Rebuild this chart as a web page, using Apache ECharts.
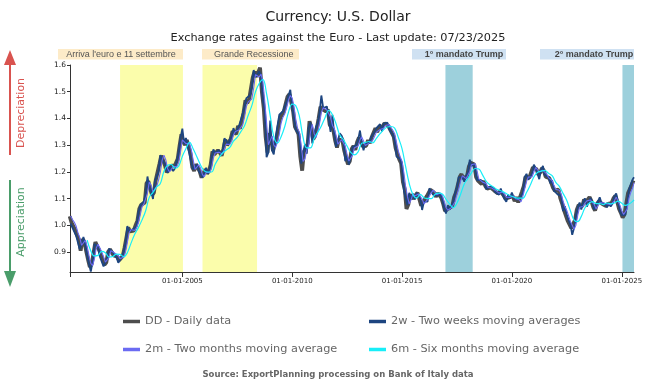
<!DOCTYPE html>
<html><head><meta charset="utf-8">
<script src="https://cdn.jsdelivr.net/npm/echarts@6/dist/echarts.min.js"></script>
<style>html,body{margin:0;padding:0;background:#fff}#c{width:655px;height:391px}</style>
</head><body><div id="c"></div>
<script>
// ---- data (EUR/USD) ----
// DD: mid-month values, Nov 1999 .. Jul 2025
const dd = [1.034,1.011,
1.014,0.983,0.964,0.947,0.906,0.949,0.940,0.904,0.872,0.845,0.856,0.897,
0.938,0.922,0.910,0.892,0.874,0.853,0.861,0.901,0.911,0.906,0.888,0.892,
0.883,0.870,0.876,0.886,0.917,0.955,0.992,0.978,0.981,0.981,1.001,1.018,
1.062,1.077,1.081,1.085,1.158,1.166,1.137,1.114,1.122,1.169,1.170,1.229,
1.261,1.265,1.226,1.199,1.201,1.214,1.227,1.218,1.222,1.249,1.299,1.341,
1.312,1.301,1.320,1.294,1.269,1.217,1.204,1.229,1.226,1.202,1.179,1.186,
1.210,1.194,1.202,1.227,1.277,1.265,1.268,1.281,1.273,1.261,1.288,1.321,
1.300,1.307,1.324,1.352,1.351,1.342,1.372,1.362,1.390,1.423,1.468,1.457,
1.472,1.475,1.553,1.575,1.556,1.555,1.590,1.498,1.437,1.332,1.273,1.345,
1.324,1.279,1.305,1.319,1.365,1.402,1.409,1.427,1.456,1.482,1.491,1.461,
1.427,1.369,1.357,1.341,1.257,1.205,1.277,1.289,1.307,1.390,1.366,1.322,
1.336,1.365,1.400,1.444,1.435,1.439,1.426,1.434,1.377,1.371,1.356,1.318,
1.291,1.322,1.320,1.316,1.279,1.253,1.229,1.240,1.286,1.297,1.283,1.312,
1.329,1.336,1.296,1.303,1.298,1.319,1.308,1.331,1.335,1.364,1.349,1.370,
1.361,1.366,1.382,1.381,1.373,1.359,1.354,1.332,1.290,1.267,1.247,1.233,
1.162,1.135,1.062,1.078,1.115,1.121,1.100,1.114,1.122,1.124,1.074,1.088,
1.086,1.109,1.110,1.134,1.131,1.123,1.107,1.121,1.121,1.103,1.080,1.054,
1.061,1.064,1.069,1.072,1.106,1.123,1.151,1.181,1.192,1.176,1.174,1.184,
1.220,1.235,1.234,1.228,1.181,1.168,1.169,1.155,1.166,1.148,1.137,1.138,
1.142,1.135,1.130,1.124,1.119,1.129,1.122,1.113,1.100,1.105,1.105,1.111,
1.110,1.091,1.106,1.086,1.090,1.126,1.146,1.183,1.179,1.178,1.184,1.217,
1.217,1.210,1.190,1.198,1.215,1.205,1.182,1.177,1.177,1.160,1.141,1.130,
1.131,1.134,1.102,1.082,1.058,1.057,1.018,1.013,0.990,0.983,1.020,1.059,
1.077,1.072,1.071,1.097,1.087,1.084,1.106,1.091,1.068,1.056,1.081,1.090,
1.091,1.080,1.087,1.073,1.081,1.076,1.084,1.101,1.111,1.090,1.063,1.048,
1.030,1.041,1.081,1.121,1.128,1.152,1.168];

// 2w: month-end values, Nov 1999 .. Jul 2025
const w2 = [1.007,1.005,
0.976,0.962,0.957,0.911,0.931,0.957,0.927,0.886,0.883,0.828,0.865,0.931,
0.935,0.919,0.883,0.887,0.847,0.848,0.877,0.913,0.913,0.900,0.890,0.881,
0.861,0.870,0.872,0.902,0.934,0.998,0.978,0.983,0.986,0.983,0.996,1.049,
1.074,1.080,1.090,1.114,1.183,1.143,1.127,1.099,1.165,1.158,1.200,1.263,
1.246,1.236,1.222,1.197,1.222,1.216,1.204,1.214,1.241,1.275,1.326,1.362,
1.304,1.327,1.296,1.294,1.232,1.209,1.213,1.228,1.204,1.200,1.179,1.180,
1.216,1.193,1.210,1.254,1.284,1.271,1.278,1.281,1.266,1.277,1.326,1.317,
1.301,1.322,1.332,1.364,1.345,1.351,1.373,1.367,1.418,1.445,1.476,1.472,
1.487,1.517,1.581,1.554,1.551,1.576,1.561,1.467,1.430,1.255,1.273,1.392,
1.281,1.266,1.331,1.328,1.414,1.413,1.427,1.431,1.464,1.471,1.507,1.441,
1.397,1.357,1.348,1.332,1.231,1.227,1.303,1.268,1.365,1.386,1.307,1.336,
1.369,1.383,1.421,1.486,1.439,1.445,1.445,1.445,1.350,1.414,1.342,1.294,
1.318,1.344,1.336,1.321,1.240,1.259,1.228,1.258,1.293,1.296,1.301,1.319,
1.355,1.313,1.281,1.307,1.301,1.308,1.328,1.324,1.351,1.364,1.361,1.379,
1.352,1.381,1.379,1.385,1.361,1.366,1.338,1.319,1.258,1.253,1.248,1.214,
1.131,1.124,1.076,1.122,1.097,1.119,1.097,1.122,1.120,1.102,1.058,1.089,
1.092,1.089,1.139,1.140,1.115,1.110,1.111,1.115,1.116,1.095,1.064,1.045,
1.076,1.060,1.069,1.091,1.122,1.141,1.181,1.183,1.181,1.164,1.185,1.199,
1.246,1.221,1.232,1.208,1.170,1.166,1.170,1.165,1.158,1.136,1.136,1.145,
1.149,1.141,1.124,1.122,1.115,1.138,1.115,1.099,1.089,1.115,1.101,1.123,
1.105,1.098,1.096,1.095,1.110,1.120,1.180,1.193,1.171,1.170,1.193,1.227,
1.214,1.212,1.173,1.208,1.223,1.188,1.189,1.182,1.158,1.169,1.130,1.133,
1.116,1.120,1.110,1.054,1.072,1.039,1.020,1.003,0.965,0.991,1.037,1.067,
1.086,1.060,1.088,1.101,1.070,1.087,1.102,1.087,1.059,1.058,1.089,1.105,
1.083,1.080,1.081,1.068,1.082,1.071,1.081,1.109,1.120,1.089,1.054,1.039,
1.036,1.040,1.082,1.134,1.133,1.172,1.180];

// 2m: month-end values, Nov 1999 .. Jul 2025
const m2 = [1.035,1.022,
1.012,0.998,0.973,0.955,0.926,0.927,0.944,0.922,0.888,0.858,0.850,0.876,
0.917,0.930,0.916,0.901,0.883,0.863,0.857,0.881,0.906,0.908,0.897,0.890,
0.887,0.876,0.873,0.881,0.901,0.936,0.973,0.985,0.979,0.981,0.991,1.009,
1.040,1.069,1.079,1.083,1.121,1.162,1.151,1.125,1.118,1.145,1.169,1.199,
1.245,1.263,1.245,1.212,1.200,1.207,1.220,1.222,1.220,1.235,1.274,1.320,
1.326,1.306,1.310,1.307,1.281,1.243,1.210,1.216,1.227,1.214,1.190,1.182,
1.198,1.202,1.198,1.214,1.252,1.271,1.266,1.274,1.277,1.267,1.274,1.304,
1.310,1.303,1.315,1.338,1.351,1.346,1.357,1.367,1.376,1.406,1.445,1.462,
1.464,1.473,1.514,1.564,1.565,1.555,1.566,1.537,1.467,1.384,1.302,1.309,
1.334,1.301,1.292,1.312,1.342,1.383,1.405,1.418,1.441,1.469,1.486,1.476,
1.444,1.398,1.363,1.349,1.299,1.239,1.249,1.283,1.298,1.348,1.378,1.344,
1.329,1.350,1.382,1.422,1.440,1.437,1.432,1.430,1.405,1.374,1.363,1.337,
1.304,1.306,1.321,1.318,1.297,1.266,1.241,1.234,1.263,1.291,1.290,1.297,
1.320,1.332,1.316,1.299,1.300,1.308,1.313,1.319,1.333,1.349,1.356,1.359,
1.365,1.363,1.374,1.381,1.377,1.366,1.356,1.343,1.311,1.278,1.257,1.240,
1.197,1.148,1.109,1.081,1.096,1.118,1.110,1.107,1.118,1.123,1.099,1.081,
1.087,1.097,1.110,1.122,1.132,1.127,1.115,1.114,1.121,1.112,1.091,1.067,
1.057,1.062,1.066,1.070,1.089,1.114,1.137,1.166,1.186,1.184,1.175,1.179,
1.202,1.227,1.234,1.231,1.204,1.174,1.168,1.162,1.160,1.157,1.142,1.137,
1.140,1.138,1.132,1.127,1.121,1.124,1.125,1.117,1.106,1.102,1.105,1.108,
1.110,1.100,1.098,1.096,1.088,1.108,1.136,1.164,1.181,1.178,1.181,1.200,
1.217,1.213,1.200,1.194,1.206,1.210,1.193,1.179,1.177,1.168,1.150,1.135,
1.130,1.132,1.118,1.092,1.070,1.057,1.037,1.015,1.001,0.986,1.001,1.039,
1.068,1.074,1.071,1.084,1.092,1.085,1.095,1.098,1.079,1.062,1.068,1.085,
1.090,1.085,1.083,1.080,1.077,1.078,1.080,1.092,1.106,1.100,1.076,1.055,
1.041,1.038,1.061,1.101,1.124,1.140,1.160];

// 6m: every two months (end of Aug, Oct, Dec, Feb...), Aug 2000 .. Jul 2025
const m6 = [0.945,0.905,0.886,
0.888,0.903,0.898,0.882,0.884,0.893,
0.892,0.883,0.898,0.934,0.967,0.992,
1.020,1.054,1.105,1.124,1.144,1.157,
1.203,1.225,1.228,1.214,1.222,1.259,
1.287,1.311,1.286,1.256,1.225,1.204,
1.200,1.200,1.229,1.253,1.271,1.282,
1.292,1.315,1.329,1.351,1.373,1.412,
1.448,1.500,1.531,1.545,1.493,1.410,
1.332,1.308,1.332,1.371,1.424,1.454,
1.448,1.408,1.329,1.290,1.290,1.325,
1.348,1.372,1.403,1.430,1.414,1.380,
1.339,1.321,1.297,1.273,1.264,1.275,
1.307,1.310,1.314,1.309,1.326,1.343,
1.358,1.368,1.370,1.364,1.329,1.287,
1.222,1.157,1.116,1.102,1.116,1.104,
1.101,1.100,1.116,1.121,1.118,1.098,
1.081,1.067,1.083,1.117,1.155,1.176,
1.197,1.213,1.211,1.189,1.165,1.152,
1.144,1.134,1.130,1.123,1.115,1.109,
1.104,1.102,1.102,1.123,1.150,1.181,
1.198,1.203,1.206,1.195,1.186,1.161,
1.146,1.120,1.094,1.055,1.020,1.014,
1.034,1.066,1.081,1.089,1.082,1.082,
1.078,1.084,1.081,1.084,1.091,1.083,
1.075,1.080,1.090,1.096];

const xTickYears = [2005, 2010, 2015, 2020, 2025];
const yTickValues = [0.9, 1.0, 1.1, 1.2, 1.3, 1.4, 1.5, 1.6];
const yellowBands = [['2002-03-01', '2005-01-10'], ['2005-12-01', '2008-05-26']];
const tealBands = [['2016-12-22', '2018-03-20'], ['2025-01-12', '2025-07-23']];
const seriesNames = ['DD - Daily data', '2w - Two weeks moving averages', '2m - Two months moving average', '6m - Six months moving average'];

// ---- build ----
const START = Date.UTC(1999, 10, 20);
const END = Date.UTC(2025, 6, 23);
const cap = t => Math.min(t, END);
const ddData = dd.map((v, i) => [Date.UTC(1999, 10 + i, 15), v]);
const w2Data = w2.map((v, i) => [cap(Date.UTC(1999, 11 + i, 0)), v]);
const m2Data = m2.map((v, i) => [cap(Date.UTC(1999, 11 + i, 0)), v]);
const m6Data = m6.map((v, i) => [cap(Date.UTC(2000, 8 + 2 * i, 0)), v]);
const xTicks = xTickYears.map(y => Date.UTC(y, 0, 1));

const FONT = 'DejaVu Sans';
const chart = echarts.init(document.getElementById('c'), null, {renderer: 'canvas'});

function lineSeries(name, data, color, width, extra) {
  return Object.assign({
    name, type: 'line', data, showSymbol: false, symbol: 'none',
    lineStyle: {color, width}, itemStyle: {color}, z: 3, animation: false,
    emphasis: {disabled: true}
  }, extra || {});
}
const bandArea = (list) => list.map(b => [{xAxis: Date.parse(b[0] + 'T00:00:00Z')}, {xAxis: Date.parse(b[1] + 'T00:00:00Z')}]);

chart.setOption({
  animation: false,
  title: [
    {text: 'Currency: U.S. Dollar', left: 333, textAlign: 'center', top: 5,
     textStyle: {fontFamily: FONT, fontSize: 14, fontWeight: 'normal', color: '#222'}},
    {text: 'Exchange rates against the Euro - Last update: 07/23/2025', left: 333, textAlign: 'center', top: 28,
     textStyle: {fontFamily: FONT, fontSize: 11.3, fontWeight: 'normal', color: '#222'}}
  ],
  grid: {left: 70, right: 21, top: 65, bottom: 119, containLabel: false},
  xAxis: {
    type: 'value', min: START, max: END,
    axisLine: {show: true, lineStyle: {color: '#333', width: 1}},
    axisTick: {show: true, customValues: [START].concat(xTicks), length: 5, lineStyle: {color: '#333'}},
    axisLabel: {customValues: xTicks, fontFamily: FONT, fontSize: 7, color: '#222', margin: 6,
      formatter: v => { const d = new Date(v); return '01-01-' + d.getUTCFullYear(); }},
    splitLine: {show: false}
  },
  yAxis: {
    type: 'value', min: 0.826, max: 1.6,
    axisLine: {show: true, lineStyle: {color: '#333', width: 1}},
    axisTick: {show: true, customValues: yTickValues, length: 3, lineStyle: {color: '#333'}},
    axisLabel: {customValues: yTickValues, fontFamily: FONT, fontSize: 7.5, color: '#222', margin: 4,
      formatter: v => v.toFixed(1)},
    splitLine: {show: false}
  },
  legend: [
    {data: [seriesNames[0], seriesNames[2]], orient: 'vertical', left: 118, top: 309, itemGap: 13,
     icon: 'rect', itemWidth: 17, itemHeight: 3.5, itemTextGap: 6, selectedMode: false,
     textStyle: {fontFamily: FONT, fontSize: 11.3, color: '#666', lineHeight: 15}},
    {data: [seriesNames[1], seriesNames[3]], orient: 'vertical', left: 364, top: 309, itemGap: 13,
     icon: 'rect', itemWidth: 17, itemHeight: 3.5, itemTextGap: 6, selectedMode: false,
     textStyle: {fontFamily: FONT, fontSize: 11.3, color: '#666', lineHeight: 15}}
  ],
  series: [
    {type: 'line', data: [], z: 1, silent: true, markArea: {silent: true,
      itemStyle: {color: 'rgba(37,151,177,0.45)'}, data: bandArea(tealBands)}},
    lineSeries(seriesNames[0], ddData, '#4d4d4d', 3.8),
    lineSeries(seriesNames[1], w2Data, '#1d4580', 1.8),
    lineSeries(seriesNames[2], m2Data, '#6b6bf2', 1.1),
    lineSeries(seriesNames[3], m6Data, '#18eef8', 1.2, {smooth: 0.4}),
    {type: 'line', data: [], z: 10, silent: true, markArea: {silent: true,
      itemStyle: {color: 'rgba(243,249,0,0.33)'}, data: bandArea(yellowBands)}}
  ],
  graphic: [
    {type: 'rect', shape: {x: 58, y: 49, width: 125, height: 10.5}, style: {fill: '#fdebc8'}, silent: true},
    {type: 'text', x: 121, y: 54.5, style: {text: "Arriva l'euro e 11 settembre", font: '9px "Liberation Sans"', fill: '#555', align: 'center', verticalAlign: 'middle'}},
    {type: 'rect', shape: {x: 202, y: 49, width: 97, height: 10.5}, style: {fill: '#fdebc8'}, silent: true},
    {type: 'text', x: 253.8, y: 54.5, style: {text: 'Grande Recessione', font: '9px "Liberation Sans"', fill: '#555', align: 'center', verticalAlign: 'middle'}},
    {type: 'rect', shape: {x: 412, y: 49, width: 94, height: 10.5}, style: {fill: '#cfe1f2'}, silent: true},
    {type: 'text', x: 464, y: 54.5, style: {text: '1° mandato Trump', font: 'bold 9px "Liberation Sans"', fill: '#444', align: 'center', verticalAlign: 'middle'}},
    {type: 'rect', shape: {x: 540, y: 49, width: 94, height: 10.5}, style: {fill: '#cfe1f2'}, silent: true},
    {type: 'text', x: 594, y: 54.5, style: {text: '2° mandato Trump', font: 'bold 9px "Liberation Sans"', fill: '#444', align: 'center', verticalAlign: 'middle'}},
    {type: 'line', shape: {x1: 10, y1: 64, x2: 10, y2: 155}, style: {stroke: '#d9534f', lineWidth: 2}},
    {type: 'polygon', shape: {points: [[4, 65], [16, 65], [10, 50]]}, style: {fill: '#d9534f'}},
    {type: 'text', x: 21, y: 113, rotation: Math.PI / 2, style: {text: 'Depreciation', font: '11px "DejaVu Sans"', fill: '#d9534f', align: 'center', verticalAlign: 'middle'}},
    {type: 'line', shape: {x1: 10, y1: 180, x2: 10, y2: 272}, style: {stroke: '#4a9d6a', lineWidth: 2}},
    {type: 'polygon', shape: {points: [[4, 271], [16, 271], [10, 287]]}, style: {fill: '#4a9d6a'}},
    {type: 'text', x: 21, y: 222, rotation: Math.PI / 2, style: {text: 'Appreciation', font: '11px "DejaVu Sans"', fill: '#4a9d6a', align: 'center', verticalAlign: 'middle'}},
    {type: 'text', x: 338, y: 375, style: {text: 'Source: ExportPlanning processing on Bank of Italy data', font: 'bold 8.5px "DejaVu Sans"', fill: '#666', align: 'center', verticalAlign: 'middle'}}
  ]
});
</script></body></html>
